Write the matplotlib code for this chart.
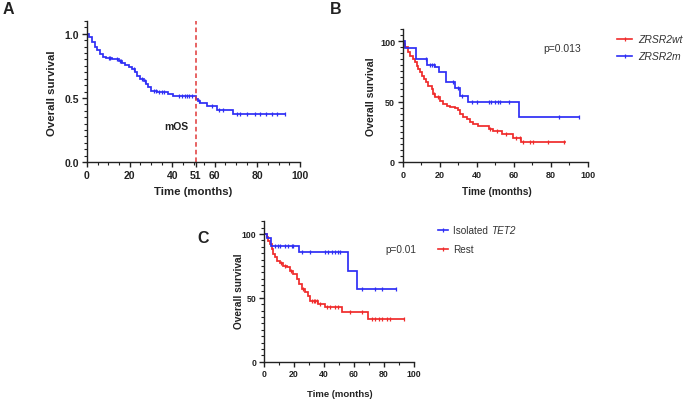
import numpy as np
import matplotlib
matplotlib.use("Agg")
import matplotlib.pyplot as plt
from matplotlib.lines import Line2D
from matplotlib.ticker import MultipleLocator, FixedLocator

# ---------------- data ----------------
# Panel A: overall survival (fraction)
a_times = [0, 1, 2.2, 3.8, 4.9, 6.2, 7.5, 9.1, 11.7, 14.8, 16.4, 17.9, 19.5, 21, 22.6, 23.7,
           25, 26.6, 27.8, 28.8, 30, 33, 38, 40.5, 51.3, 52, 53, 56.2, 60.8, 68.7]
a_surv = [1.0, 0.974, 0.935, 0.896, 0.87, 0.844, 0.823, 0.81, 0.80, 0.786, 0.771, 0.758, 0.745,
          0.727, 0.70, 0.674, 0.648, 0.63, 0.61, 0.584, 0.557, 0.547, 0.531, 0.513, 0.49, 0.475,
          0.46, 0.435, 0.406, 0.375]
a_end = 93
a_censor = [10.5, 11, 14, 15.5, 16, 22, 26, 27, 31.5, 32.5, 34, 35, 36, 43, 44.5, 46, 47, 48,
            49.5, 52.5, 58.5, 62, 64, 70.5, 72, 75, 79, 81, 84, 87, 89, 93]
a_median = 51

# Panel B: ZRSR2wt vs ZRSR2m (%)
b_wt_t = [0, 0.5, 1.2, 3.0, 3.9, 5.4, 6.6, 7.5, 8.4, 9.3, 10.2, 11.5, 12.6, 13.8, 15.6, 16.5,
          17.4, 20.1, 21.9, 23.7, 25.5, 28.2, 30.0, 30.9, 32.7, 34.5, 36.3, 38.1, 40.8, 46.7,
          48.5, 53.4, 59.7, 63.8]
b_wt_s = [100, 97.5, 94.8, 90.6, 87.9, 85.1, 82.4, 79.6, 76.9, 74.1, 71.3, 68.6, 65.8, 63.1,
          60.3, 56.2, 53.5, 50.7, 47.9, 46.6, 45.7, 44.6, 43, 39.7, 37.5, 35.5, 32.8, 31.4, 29.5,
          27.3, 25.6, 23.1, 19.6, 16.8]
b_wt_end = 87.4
b_wt_censor = [17, 19, 47, 51, 56, 61, 63.3, 65.1, 68.7, 70.1, 78.6, 87.1]

b_m_t = [0, 1, 7.2, 13.2, 17.4, 19.5, 23.3, 28.4, 30.9, 35.4, 62.8]
b_m_s = [100, 94.4, 85.1, 80.4, 78.2, 74.6, 65.8, 61.2, 54.8, 50, 37.5]
b_m_end = 95
b_m_censor = [12.5, 15, 16, 17, 27, 30, 32, 37.5, 40.3, 46.6, 47.7, 49.8, 51.6, 52.5, 57.5, 84.3, 95]
b_pvalue = "p=0.013"
b_labels = ["ZRSR2wt", "ZRSR2m"]

# Panel C: Isolated TET2 vs Rest (%)
c_iso_t = [0, 2.2, 4.4, 23.6, 56.2, 61.8]
c_iso_s = [100, 97.2, 90.9, 85.7, 71.4, 57.1]
c_iso_end = 88
c_iso_censor = [7.3, 9.6, 10.7, 14, 16.2, 18.4, 19.6, 25.1, 30.7, 40.7, 42.9, 45.1, 47.3, 49.6,
                50.7, 65.1, 74, 78.4, 88]

c_rest_t = [0, 1.8, 2.9, 4.0, 5.1, 6.2, 7.3, 8.4, 10.7, 12.9, 15.1, 17.3, 19.6, 21.8, 23.6,
            25.1, 27.3, 29.6, 30.7, 36, 40.6, 51.8, 69.6]
c_rest_s = [100, 97.4, 94.8, 92.2, 88.3, 84.4, 81.8, 79.2, 77.1, 75.3, 74, 71.4, 68.8, 64.9, 61,
            57.1, 54.5, 51.1, 47.8, 45.2, 43.1, 38.7, 33.4]
c_rest_end = 93
c_rest_censor = [11, 14, 18, 26, 32, 33, 34, 35, 37, 42, 44, 47, 49, 57, 65, 72, 74, 76.4, 78.7,
                 82, 84.2, 93]
c_pvalue = "p=0.01"
c_labels = [("Isolated ", "TET2"), ("Rest", "")]

BLUE = "#2e2ef5"
RED = "#f02a2a"
TXT = "#222222"

# ---------------- figure ----------------
W, H = 685, 402
fig = plt.figure(figsize=(W / 100, H / 100), dpi=100)
FAM = ["Liberation Sans", "DejaVu Sans"]


def fx(x):
    return x / W


def fy(y):
    return 1 - y / H


def km(ax, t, s, end, censor, color):
    tt = list(t) + [end]
    ss = list(s) + [s[-1]]
    ax.step(tt, ss, where="post", color=color, lw=1.25, solid_joinstyle="miter")
    idx = np.searchsorted(np.array(t), np.array(censor), side="right") - 1
    cy = np.array(s)[idx]
    ax.plot(censor, cy, ls="none", marker="|", ms=3.5, mew=0.9, color=color)


def style(ax, size):
    for sp in ["top", "right"]:
        ax.spines[sp].set_visible(False)
    for sp in ["left", "bottom"]:
        ax.spines[sp].set_linewidth(1.0)
        ax.spines[sp].set_color(TXT)
    ax.tick_params(which="major", length=3.5, width=1.0, color=TXT, pad=2, labelsize=size,
                   labelcolor=TXT)
    ax.tick_params(which="minor", length=2, width=0.8, color=TXT)
    for lab in ax.get_xticklabels() + ax.get_yticklabels():
        lab.set_family(FAM)
        lab.set_weight("bold")
        lab.set_fontsize(size)


# ---- Panel A ----
axA = fig.add_axes([fx(87), fy(163), fx(213), 141 / H])
km(axA, a_times, a_surv, a_end, a_censor, BLUE)
axA.axvline(a_median, color="#e03838", ls=(0, (3, 2)), lw=1.1)
axA.set_xlim(0, 100)
axA.set_ylim(0, 1.1)
axA.xaxis.set_major_locator(FixedLocator([0, 20, 40, a_median, 60, 80, 100]))
axA.xaxis.set_minor_locator(MultipleLocator(5))
axA.yaxis.set_major_locator(FixedLocator([0, 0.5, 1.0]))
axA.yaxis.set_minor_locator(MultipleLocator(0.05))
axA.set_yticklabels(["0.0", "0.5", "1.0"])
axA.set_xticklabels(["0", "20", "40", str(a_median), "60", "80", "100"])
style(axA, 7.5)
axA.text(41.8, 0.284, "mOS", family=FAM, weight="bold", fontsize=7.5, ha="center",
         va="center", color=TXT)
fig.text(fx(52), fy(93), "Overall survival", family=FAM, weight="bold", fontsize=8.2,
         rotation=90, ha="center", va="center", color=TXT)
fig.text(fx(193), fy(192), "Time (months)", family=FAM, weight="bold", fontsize=8.2,
         ha="center", va="center", color=TXT)
fig.text(fx(8), fy(10), "A", family=FAM, weight="bold", fontsize=11.5, ha="center",
         va="center", color=TXT)

# ---- Panel B ----
axB = fig.add_axes([fx(402.7), fy(163), fx(185.3), 133 / H])
km(axB, b_wt_t, b_wt_s, b_wt_end, b_wt_censor, RED)
km(axB, b_m_t, b_m_s, b_m_end, b_m_censor, BLUE)
axB.set_xlim(0, 100)
axB.set_ylim(0, 110)
axB.xaxis.set_major_locator(MultipleLocator(20))
axB.xaxis.set_minor_locator(MultipleLocator(10))
axB.yaxis.set_major_locator(FixedLocator([0, 50, 100]))
axB.yaxis.set_minor_locator(MultipleLocator(5))
style(axB, 6.5)
axB.text(75.7, 94, b_pvalue, family=FAM, fontsize=7.5, ha="left", va="center", color="#333333")
fig.text(fx(371), fy(97), "Overall survival", family=FAM, weight="bold", fontsize=7.6,
         rotation=90, ha="center", va="center", color=TXT)
fig.text(fx(497), fy(192), "Time (months)", family=FAM, weight="bold", fontsize=7.3,
         ha="center", va="center", color=TXT)
fig.text(fx(336), fy(9), "B", family=FAM, weight="bold", fontsize=11.5, ha="center",
         va="center", color=TXT)
for (lab, col, yy) in [(b_labels[0], RED, 40), (b_labels[1], BLUE, 57)]:
    fig.add_artist(Line2D([fx(617), fx(632)], [fy(yy), fy(yy)], color=col, lw=1.2))
    fig.add_artist(Line2D([fx(624.5)], [fy(yy)], color=col, marker="|", ms=3, mew=0.9))
    fig.text(fx(638), fy(yy), lab, family=FAM, style="italic", fontsize=7.5, ha="left",
             va="center", color="#333333")

# ---- Panel C ----
axC = fig.add_axes([fx(264), fy(362.7), fx(150), 140.5 / H])
km(axC, c_rest_t, c_rest_s, c_rest_end, c_rest_censor, RED)
km(axC, c_iso_t, c_iso_s, c_iso_end, c_iso_censor, BLUE)
axC.set_xlim(0, 100)
axC.set_ylim(0, 110)
axC.xaxis.set_major_locator(MultipleLocator(20))
axC.xaxis.set_minor_locator(MultipleLocator(10))
axC.yaxis.set_major_locator(FixedLocator([0, 50, 100]))
axC.yaxis.set_minor_locator(MultipleLocator(5))
style(axC, 6.3)
axC.text(80.7, 88, c_pvalue, family=FAM, fontsize=7.2, ha="left", va="center", color="#333333")
fig.text(fx(239), fy(291), "Overall survival", family=FAM, weight="bold", fontsize=7.3,
         rotation=90, ha="center", va="center", color=TXT)
fig.text(fx(340), fy(395), "Time (months)", family=FAM, weight="bold", fontsize=6.8,
         ha="center", va="center", color=TXT)
fig.text(fx(203), fy(239), "C", family=FAM, weight="bold", fontsize=11.5, ha="center",
         va="center", color=TXT)

renderer = fig.canvas.get_renderer()
for (parts, col, yy) in [(c_labels[0], BLUE, 231), (c_labels[1], RED, 250)]:
    fig.add_artist(Line2D([fx(438), fx(448)], [fy(yy), fy(yy)], color=col, lw=1.2))
    fig.add_artist(Line2D([fx(443)], [fy(yy)], color=col, marker="|", ms=3, mew=0.9))
    t1 = fig.text(fx(453), fy(yy), parts[0], family=FAM, fontsize=7.2, ha="left",
                  va="center", color="#333333")
    if parts[1]:
        bb = t1.get_window_extent(renderer)
        fig.text(bb.x1 / fig.bbox.width, fy(yy), parts[1], family=FAM, style="italic",
                 fontsize=7.2, ha="left", va="center", color="#333333")

fig.savefig("out.png", dpi=100)
